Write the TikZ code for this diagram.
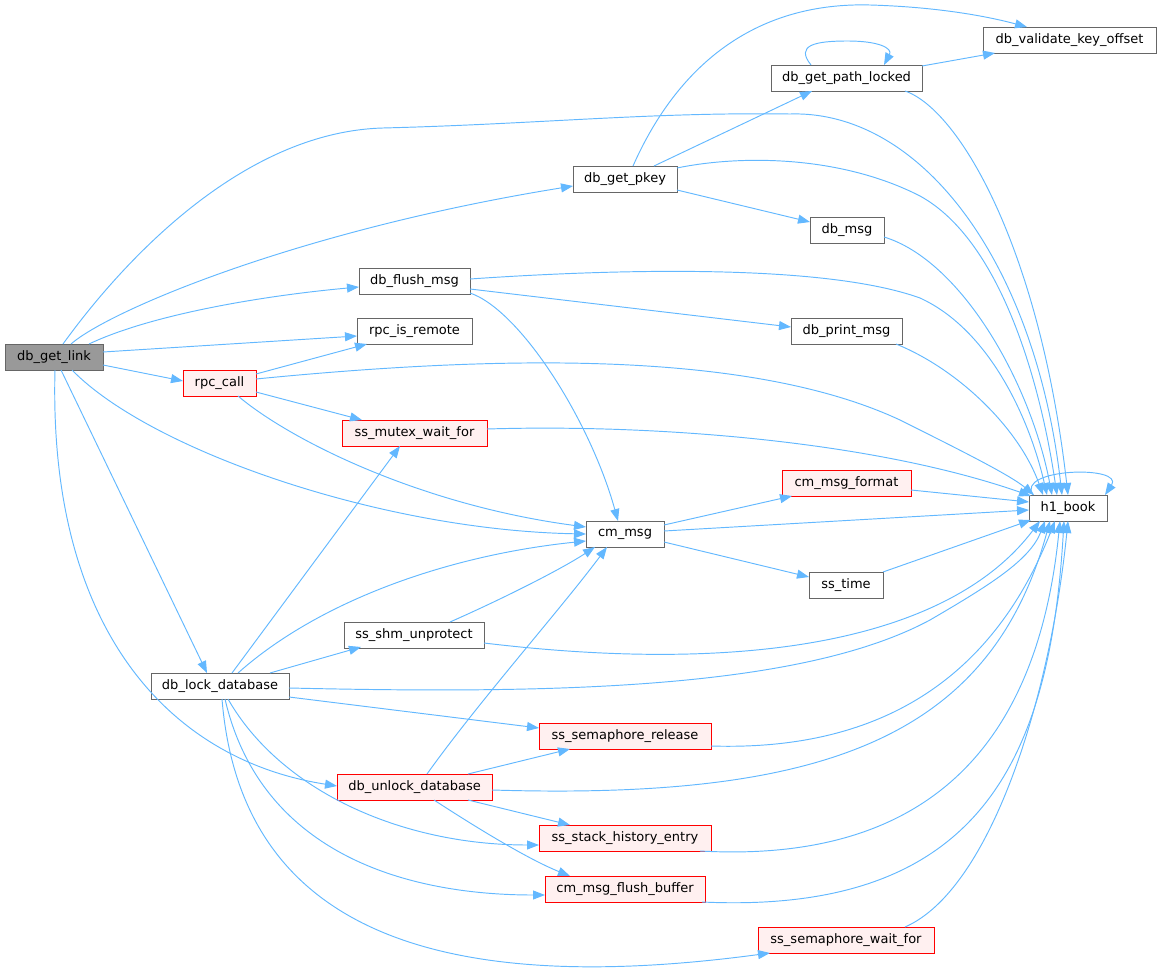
\documentclass[tikz,border=0pt]{standalone}
\usepackage{fontspec}
\setmainfont{DejaVu Sans}
\usetikzlibrary{arrows.meta,calc}
\definecolor{edgeblue}{HTML}{63B8FF}
\definecolor{boxgray}{HTML}{666666}
\definecolor{mainfill}{HTML}{999999}
\definecolor{redfill}{HTML}{FFF0F0}
\tikzset{
  fn/.style={draw=boxgray, fill=white, line width=0.9pt, minimum height=26pt, inner sep=0pt,
    text=black, font=\fontsize{13}{15}\selectfont},
  redfn/.style={fn, draw=red},
  redfnfill/.style={fill=redfill},
  mainfn/.style={fn, fill=mainfill},
  call/.style={draw=edgeblue, line width=0.95pt, -{Triangle[length=12pt,width=9pt]}}
}
\begin{document}
\begin{tikzpicture}[x=1pt,y=-1pt]
\useasboundingbox (0,0) rectangle (1160,971);
% nodes
\node[mainfn, minimum width=98pt] (link) at (54,357) {db\_get\_link};
\node[fn, minimum width=104pt] (pkey) at (625,179) {db\_get\_pkey};
\node[fn, minimum width=173pt] (valid) at (1069.5,40) {db\_validate\_key\_offset};
\node[fn, minimum width=151pt] (path) at (846.5,78) {db\_get\_path\_locked};
\node[fn, minimum width=74pt] (dbmsg) at (847,230) {db\_msg};
\node[fn, minimum width=111pt] (flush) at (414.5,281) {db\_flush\_msg};
\node[fn, minimum width=115pt] (remote) at (414.5,331) {rpc\_is\_remote};
\node[fn, minimum width=111pt] (print) at (846.5,331) {db\_print\_msg};
\node[redfn, redfnfill, minimum width=73pt] (rpc) at (219.5,383) {rpc\_call};
\node[redfn, redfnfill, minimum width=145pt] (mutex) at (414.5,433) {ss\_mutex\_wait\_for};
\node[redfn, redfnfill, minimum width=129pt] (fmt) at (846.5,483) {cm\_msg\_format};
\node[fn, minimum width=78pt] (h1) at (1068,508) {h1\_book};
\node[fn, minimum width=78pt] (cm) at (625,534) {cm\_msg};
\node[fn, minimum width=74pt] (time) at (846,585) {ss\_time};
\node[fn, minimum width=140pt] (shm) at (414,635) {ss\_shm\_unprotect};
\node[fn, minimum width=138pt] (lock) at (220,686) {db\_lock\_database};
\node[redfn, redfnfill, minimum width=172pt] (rel) at (625,736) {ss\_semaphore\_release};
\node[redfn, redfnfill, minimum width=155pt] (unlock) at (414.5,787) {db\_unlock\_database};
\node[redfn, redfnfill, minimum width=172pt] (stack) at (625,838) {ss\_stack\_history\_entry};
\node[redfn, redfnfill, minimum width=160pt] (fbuf) at (625,889) {cm\_msg\_flush\_buffer};
\node[redfn, redfnfill, minimum width=176pt] (swait) at (846,940) {ss\_semaphore\_wait\_for};

% db_get_link
\draw[call] ($(link)+(17,-13)$) .. controls (110,310) and (300,230) .. ($(pkey)+(-52,7)$);
\draw[call] ($(link)+(9,-13)$) .. controls (120,265) and (240,132) .. (383,128)
   .. controls (540,124) and (650,112) .. (790,114)
   .. controls (920,110) and (1035,260) .. ($(h1)+(-6,-13)$);
\draw[call] ($(link)+(35,-13)$) .. controls (150,315) and (260,296) .. ($(flush)+(-55.5,6)$);
\draw[call] ($(link)+(49,-5)$) -- ($(remote)+(-57.5,5)$);
\draw[call] ($(link)+(49,8)$) -- ($(rpc)+(-36.5,-2)$);
\draw[call] ($(link)+(18,13)$) .. controls (150,450) and (380,530) .. ($(cm)+(-39,0)$);
\draw[call] ($(link)+(7,13)$) -- ($(lock)+(-13,-13)$);
\draw[call] ($(link)+(1,13)$) .. controls (48,630) and (170,760) .. ($(unlock)+(-77.5,-1)$);

% rpc_call
\draw[call] ($(rpc)+(36.5,-9)$) -- ($(remote)+(-47.5,13)$);
\draw[call] ($(rpc)+(36.5,-4)$) .. controls (500,355) and (750,350) .. (900,420)
   .. controls (960,450) and (1010,475) .. ($(h1)+(-34,-13)$);
\draw[call] ($(rpc)+(36.5,9)$) -- ($(mutex)+(-52.5,-13)$);
\draw[call] ($(rpc)+(18.5,13)$) .. controls (290,440) and (420,505) .. ($(cm)+(-39,-7)$);

% db_get_pkey
\draw[call] ($(pkey)+(8,-13)$) .. controls (680,60) and (760,2) .. (870,5)
   .. controls (940,7) and (990,17) .. ($(valid)+(-42.5,-13)$);
\draw[call] ($(pkey)+(29,-13)$) -- ($(path)+(-34.5,13)$);
\draw[call] ($(pkey)+(52,-11)$) .. controls (740,155) and (840,155) .. (920,196)
   .. controls (1000,240) and (1040,380) .. ($(h1)+(-11,-13)$);
\draw[call] ($(pkey)+(52,11)$) -- ($(dbmsg)+(-37,-8)$);

% db_get_path_locked
\draw[call] ($(path)+(-35.5,-13)$) .. controls (795,45) and (815,41) .. (848,41)
   .. controls (878,41) and (893,48) .. ($(path)+(37.5,-13)$);
\draw[call] ($(path)+(75.5,-12)$) -- ($(valid)+(-74.5,13)$);
\draw[call] ($(path)+(58.5,13)$) .. controls (960,110) and (1040,250) .. ($(h1)+(0,-13)$);

% db_msg, db_flush_msg, db_print_msg
\draw[call] ($(dbmsg)+(37,7)$) .. controls (960,260) and (1030,380) .. ($(h1)+(-16,-13)$);
\draw[call] ($(flush)+(55.5,-2)$) .. controls (600,270) and (820,262) .. (920,298)
   .. controls (990,330) and (1030,420) .. ($(h1)+(-21,-13)$);
\draw[call] ($(flush)+(55.5,8)$) -- ($(print)+(-55.5,-4)$);
\draw[call] ($(flush)+(55.5,12)$) .. controls (520,310) and (590,420) .. ($(cm)+(-7,-13)$);
\draw[call] ($(print)+(49.5,13)$) .. controls (960,370) and (1020,430) .. ($(h1)+(-25,-13)$);

% ss_mutex_wait_for, cm_msg_format, cm_msg, ss_time
\draw[call] ($(mutex)+(72.5,-4)$) .. controls (650,424) and (870,440) .. ($(h1)+(-37,-12)$);
\draw[call] ($(fmt)+(64.5,7)$) -- ($(h1)+(-39,-6)$);
\draw[call] ($(cm)+(39,-9)$) -- ($(fmt)+(-54.5,13)$);
\draw[call] ($(cm)+(39,-3)$) -- ($(h1)+(-39,2)$);
\draw[call] ($(cm)+(39,8)$) -- ($(time)+(-37,-8)$);
\draw[call] ($(time)+(37,-13)$) -- ($(h1)+(-37,12)$);

% ss_shm_unprotect
\draw[call] ($(shm)+(36,-13)$) .. controls (500,600) and (560,570) .. ($(cm)+(-30,13)$);
\draw[call] ($(shm)+(70,8)$) .. controls (750,675) and (950,640) .. ($(h1)+(-28,13)$);

% db_lock_database
\draw[call] ($(lock)+(12,-13)$) -- ($(mutex)+(-14.5,13)$);
\draw[call] ($(lock)+(18,-13)$) .. controls (320,600) and (450,555) .. ($(cm)+(-39,7)$);
\draw[call] ($(lock)+(50,-13)$) -- ($(shm)+(-53,12)$);
\draw[call] ($(lock)+(69,2)$) .. controls (550,694) and (800,690) .. (930,620)
   .. controls (990,585) and (1030,560) .. ($(h1)+(-23,13)$);
\draw[call] ($(lock)+(69,11)$) -- ($(rel)+(-86,-8)$);
\draw[call] ($(lock)+(8,13)$) .. controls (280,790) and (400,845) .. ($(stack)+(-86,7)$);
\draw[call] ($(lock)+(5,13)$) .. controls (260,850) and (400,895) .. ($(fbuf)+(-80,6)$);
\draw[call] ($(lock)+(2,13)$) .. controls (240,920) and (420,1000) .. ($(swait)+(-76,13)$);

% db_unlock_database
\draw[call] ($(unlock)+(12.5,-13)$) .. controls (480,700) and (560,610) .. ($(cm)+(-18,13)$);
\draw[call] ($(unlock)+(53.5,-13)$) -- ($(rel)+(-55,13)$);
\draw[call] ($(unlock)+(77.5,3)$) .. controls (820,800) and (990,740) .. ($(h1)+(-18,13)$);
\draw[call] ($(unlock)+(53.5,13)$) -- ($(stack)+(-55,-13)$);
\draw[call] ($(unlock)+(19.5,13)$) .. controls (480,830) and (530,860) .. ($(fbuf)+(-55,-13)$);

% lower red nodes to h1_book
\draw[call] ($(rel)+(86,10)$) .. controls (900,752) and (1000,660) .. ($(h1)+(-13,13)$);
\draw[call] ($(stack)+(75,13)$) .. controls (950,865) and (1040,720) .. ($(h1)+(-8,13)$);
\draw[call] ($(fbuf)+(77,13)$) .. controls (980,915) and (1050,760) .. ($(h1)+(-4,13)$);
\draw[call] ($(swait)+(59,-13)$) .. controls (990,890) and (1050,700) .. ($(h1)+(0,13)$);

% h1_book self call
\draw[call] ($(h1)+(-35,-13)$) .. controls (1015,468) and (1125,465) .. ($(h1)+(37,-13)$);
\end{tikzpicture}
\end{document}
